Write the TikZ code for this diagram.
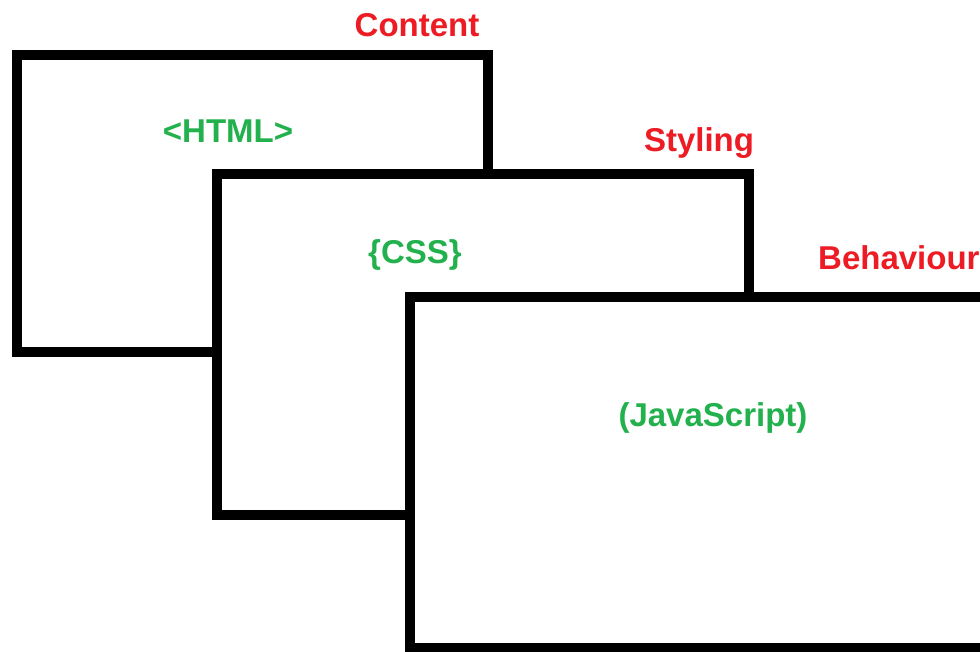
\documentclass[tikz,border=0pt]{standalone}
\usepackage{fontspec}
\setmainfont{Liberation Sans}
\usetikzlibrary{positioning}

\definecolor{paintred}{RGB}{237,28,36}
\definecolor{paintgreen}{RGB}{34,177,76}

\tikzset{
  panel/.style={rectangle,draw=black,line width=10pt,fill=white,inner sep=0pt},
  tag/.style={text=paintred,font=\fontsize{33}{38}\selectfont\bfseries,inner sep=0pt},
  code/.style={text=paintgreen,font=\fontsize{33}{38}\selectfont\bfseries,inner sep=0pt}
}

\begin{document}
\begin{tikzpicture}[x=1pt,y=1pt]
     \clip (0,0) rectangle (980,651);
     \fill[white] (0,0) rectangle (980,651);
     \node[panel,minimum width=471.5pt,minimum height=296.5pt] (html) at (252.25,447.25) {};
     \node[code] (htmltext) at (228,520) {<HTML>};
     \node[tag] (content) at (417,626) {Content};
     \node[panel,minimum width=532pt,minimum height=341pt] (css) at (483,306) {};
     \node[code] (csstext) at (415,396) {\{CSS\}};
     \node[tag] (styling) at (699,508) {Styling};
     \node[panel,minimum width=600pt,minimum height=351pt] (js) at (710,178.5) {};
     \node[code] (jstext) at (713,233) {(JavaScript)};
     \node[tag,anchor=west] (behaviour) at (818,393) {Behaviour};
   \end{tikzpicture}
\end{document}
